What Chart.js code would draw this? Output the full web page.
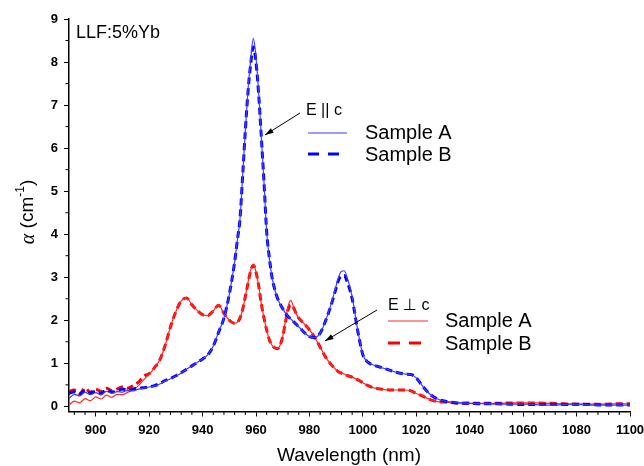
<!DOCTYPE html>
<html>
<head>
<meta charset="utf-8">
<script src="https://cdn.jsdelivr.net/npm/chart.js@4.4.0/dist/chart.umd.min.js"></script>
<style>
    body { margin: 0; background: #fff; }
</style>
</head>
<body>
<canvas id="chart" width="644" height="466"></canvas>
<script>
// wavelength grid (nm), shared by all four curves
var wavelength = [
    890, 892, 894, 896, 898, 900, 902, 904, 906, 908, 910, 912, 914, 916, 918, 920, 922, 924, 926, 928, 930, 932, 934, 936, 938, 940, 942, 944, 946, 948, 950, 952,
    953, 954, 955, 956, 957, 958, 959, 960, 961, 962, 963, 964, 965, 966, 967, 968, 969, 970, 971, 972, 973, 974, 975, 976,
    978, 980, 982, 984, 986, 988, 990,
    991, 992, 993, 994,
    996, 998, 1000, 1002, 1004, 1006, 1008, 1010, 1012, 1014, 1016, 1018, 1020, 1022, 1024, 1026, 1028, 1030,
    1035, 1040, 1045, 1050, 1055, 1060, 1065, 1070, 1075, 1080, 1085, 1090, 1095, 1100
];

// E || c
var parallelA = [
    0.18, 0.28, 0.24, 0.33, 0.27, 0.32, 0.26, 0.35, 0.30, 0.34, 0.33, 0.37, 0.36, 0.40, 0.42, 0.45, 0.47, 0.52, 0.59, 0.64, 0.70, 0.77, 0.86, 0.94, 1.02, 1.10, 1.20, 1.40, 1.73, 2.05, 2.60, 3.35,
    3.85, 4.35, 5.35, 6.40, 7.35, 8.05, 8.55, 8.10, 7.30, 6.25, 5.20, 4.05, 3.45, 3.00, 2.72, 2.52, 2.38, 2.27, 2.17, 2.09, 2.03, 1.97, 1.91, 1.85,
    1.72, 1.62, 1.60, 1.70, 1.98, 2.35, 2.80,
    3.02, 3.14, 3.15, 3.02,
    2.55, 1.80, 1.20, 1.02, 0.96, 0.92, 0.88, 0.84, 0.80, 0.77, 0.75, 0.74, 0.66, 0.50, 0.35, 0.24, 0.17, 0.13,
    0.09, 0.07, 0.06, 0.05, 0.05, 0.05, 0.04, 0.03, 0.04, 0.05, 0.03, 0.03, 0.03, 0.03
];
var parallelB = [
    0.30, 0.34, 0.28, 0.37, 0.31, 0.35, 0.30, 0.38, 0.33, 0.36, 0.40, 0.37, 0.40, 0.42, 0.43, 0.45, 0.48, 0.53, 0.60, 0.65, 0.71, 0.78, 0.86, 0.94, 1.02, 1.10, 1.20, 1.40, 1.72, 2.05, 2.60, 3.35,
    3.85, 4.35, 5.35, 6.40, 7.30, 7.95, 8.35, 8.00, 7.25, 6.25, 5.20, 4.05, 3.45, 3.00, 2.72, 2.52, 2.38, 2.27, 2.17, 2.09, 2.03, 1.97, 1.91, 1.85,
    1.72, 1.62, 1.60, 1.70, 1.98, 2.33, 2.75,
    2.95, 3.03, 3.04, 2.92,
    2.50, 1.78, 1.20, 1.02, 0.96, 0.92, 0.88, 0.84, 0.80, 0.77, 0.75, 0.74, 0.66, 0.50, 0.35, 0.24, 0.17, 0.13,
    0.08, 0.07, 0.06, 0.06, 0.05, 0.04, 0.04, 0.04, 0.04, 0.05, 0.04, 0.03, 0.03, 0.03
];

// E perpendicular c
var perpA = [
    0.03, 0.12, 0.08, 0.18, 0.13, 0.22, 0.17, 0.26, 0.21, 0.28, 0.27, 0.33, 0.38, 0.48, 0.62, 0.74, 0.90, 1.08, 1.42, 1.85, 2.20, 2.45, 2.52, 2.36, 2.23, 2.13, 2.11, 2.22, 2.35, 2.16, 2.00, 1.93,
    1.95, 2.05, 2.25, 2.55, 2.88, 3.17, 3.30, 3.12, 2.80, 2.38, 2.05, 1.77, 1.55, 1.42, 1.36, 1.34, 1.42, 1.62, 1.98, 2.32, 2.46, 2.32, 2.16, 2.05,
    1.92, 1.78, 1.60, 1.38, 1.15, 0.98, 0.85,
    0.80, 0.77, 0.75, 0.72,
    0.68, 0.62, 0.55, 0.48, 0.43, 0.41, 0.39, 0.38, 0.38, 0.38, 0.38, 0.36, 0.30, 0.25, 0.19, 0.14, 0.11, 0.10,
    0.08, 0.07, 0.07, 0.07, 0.08, 0.08, 0.08, 0.07, 0.06, 0.05, 0.05, 0.05, 0.06, 0.06
];
var perpB = [
    0.34, 0.38, 0.30, 0.42, 0.33, 0.40, 0.35, 0.42, 0.37, 0.40, 0.45, 0.42, 0.48, 0.56, 0.70, 0.76, 0.90, 1.08, 1.42, 1.85, 2.20, 2.45, 2.52, 2.36, 2.23, 2.13, 2.11, 2.22, 2.35, 2.16, 2.00, 1.93,
    1.95, 2.05, 2.25, 2.55, 2.86, 3.15, 3.28, 3.12, 2.80, 2.38, 2.05, 1.77, 1.55, 1.42, 1.36, 1.34, 1.42, 1.62, 1.95, 2.25, 2.36, 2.30, 2.16, 2.05,
    1.92, 1.78, 1.60, 1.38, 1.15, 0.98, 0.85,
    0.80, 0.77, 0.75, 0.72,
    0.68, 0.62, 0.55, 0.48, 0.43, 0.41, 0.39, 0.38, 0.38, 0.38, 0.38, 0.36, 0.30, 0.25, 0.19, 0.14, 0.11, 0.10,
    0.08, 0.07, 0.07, 0.07, 0.08, 0.08, 0.08, 0.07, 0.06, 0.05, 0.05, 0.05, 0.06, 0.06
];

// tick labels
var xTicks = [900, 920, 940, 960, 980, 1000, 1020, 1040, 1060, 1080, 1100];
var yTicks = [0, 1, 2, 3, 4, 5, 6, 7, 8, 9];
var xMinorStep = 4;
var yMinorStep = 0.5;

function toPoints(values) {
    var pts = [];
    for (var i = 0; i < wavelength.length; i++) {
        pts.push({ x: wavelength[i], y: values[i] });
    }
    return pts;
}

function line(ctx, x1, y1, x2, y2, color, width, dash) {
    ctx.save();
    ctx.strokeStyle = color;
    ctx.lineWidth = width;
    ctx.setLineDash(dash || []);
    ctx.beginPath();
    ctx.moveTo(x1, y1);
    ctx.lineTo(x2, y2);
    ctx.stroke();
    ctx.restore();
}

function arrow(ctx, x1, y1, x2, y2) {
    line(ctx, x1, y1, x2, y2, '#000', 1);
    var a = Math.atan2(y2 - y1, x2 - x1);
    ctx.save();
    ctx.fillStyle = '#000';
    ctx.beginPath();
    ctx.moveTo(x2, y2);
    ctx.lineTo(x2 - 9 * Math.cos(a - 0.3), y2 - 9 * Math.sin(a - 0.3));
    ctx.lineTo(x2 - 9 * Math.cos(a + 0.3), y2 - 9 * Math.sin(a + 0.3));
    ctx.closePath();
    ctx.fill();
    ctx.restore();
}

function text(ctx, str, x, y, font, align) {
    ctx.save();
    ctx.fillStyle = '#000';
    ctx.font = font;
    ctx.textAlign = align || 'left';
    ctx.textBaseline = 'middle';
    ctx.fillText(str, x, y);
    ctx.restore();
}

// minor ticks, axis titles and the two little legends
var extras = {
    id: 'extras',
    afterDraw: function (chart) {
        var ctx = chart.ctx;
        var xs = chart.scales.x;
        var ys = chart.scales.y;
        var area = chart.chartArea;

        // minor ticks
        for (var v = 892; v <= 1100; v += xMinorStep) {
            if (v % 20 == 0) continue;
            var px = xs.getPixelForValue(v);
            line(ctx, px, area.bottom, px, area.bottom + 3.5, '#000', 1);
        }
        for (var w = yMinorStep; w < 9; w += 1) {
            var py = ys.getPixelForValue(w);
            line(ctx, area.left, py, area.left - 3.5, py, '#000', 1);
        }

        // axis titles
        text(ctx, 'Wavelength (nm)', 349, 456, '19px "Liberation Sans", Arial, sans-serif', 'center');

        ctx.save();
        ctx.translate(28, 212);
        ctx.rotate(-Math.PI / 2);
        ctx.fillStyle = '#000';
        ctx.textBaseline = 'middle';
        ctx.font = 'italic 20px "Liberation Serif", serif';
        var alphaW = ctx.measureText('\u03b1').width;
        ctx.font = '19px "Liberation Sans", Arial, sans-serif';
        var partW = ctx.measureText(' (cm').width;
        ctx.font = '12px "Liberation Sans", Arial, sans-serif';
        var supW = ctx.measureText('-1').width;
        ctx.font = '19px "Liberation Sans", Arial, sans-serif';
        var endW = ctx.measureText(')').width;
        var x0 = -(alphaW + partW + supW + endW) / 2;
        ctx.font = 'italic 20px "Liberation Serif", serif';
        ctx.fillText('\u03b1', x0, 1);
        ctx.font = '19px "Liberation Sans", Arial, sans-serif';
        ctx.fillText(' (cm', x0 + alphaW, 0);
        ctx.font = '12px "Liberation Sans", Arial, sans-serif';
        ctx.fillText('-1', x0 + alphaW + partW, -7);
        ctx.font = '19px "Liberation Sans", Arial, sans-serif';
        ctx.fillText(')', x0 + alphaW + partW + supW, 0);
        ctx.restore();

        text(ctx, 'LLF:5%Yb', 76, 33, '18px "Liberation Sans", Arial, sans-serif');

        // E || c legend
        text(ctx, 'E || c', 306, 111, '16px "Liberation Sans", Arial, sans-serif');
        arrow(ctx, 300, 113, 265, 135);
        line(ctx, 308, 133, 347, 133, 'rgb(60,60,255)', 1.2);
        line(ctx, 308, 154, 342, 154, '#0000ff', 3, [11, 9]);
        text(ctx, 'Sample A', 365, 133, '20px "Liberation Sans", Arial, sans-serif');
        text(ctx, 'Sample B', 365, 155, '20px "Liberation Sans", Arial, sans-serif');

        // E perp c legend
        text(ctx, 'E \u22a5 c', 388, 306, '16px "Liberation Sans", "DejaVu Sans", sans-serif');
        arrow(ctx, 377, 310, 325, 341);
        line(ctx, 388, 321, 428, 321, 'rgb(255,40,40)', 1.2);
        line(ctx, 388, 343, 422, 343, '#ff0000', 3, [12, 9]);
        text(ctx, 'Sample A', 445, 321, '20px "Liberation Sans", Arial, sans-serif');
        text(ctx, 'Sample B', 445, 344, '20px "Liberation Sans", Arial, sans-serif');
    }
};

var ctx = document.getElementById('chart').getContext('2d');
var chart = new Chart(ctx, {
    type: 'line',
    data: {
        datasets: [{
            label: 'E || c Sample A',
            data: toPoints(parallelA),
            borderColor: 'rgb(60,60,255)',
            borderWidth: 1.2
        }, {
            label: 'E || c Sample B',
            data: toPoints(parallelB),
            borderColor: '#0000ff',
            borderWidth: 3,
            borderDash: [7, 4]
        }, {
            label: 'E perp c Sample A',
            data: toPoints(perpA),
            borderColor: 'rgb(255,40,40)',
            borderWidth: 1.2
        }, {
            label: 'E perp c Sample B',
            data: toPoints(perpB),
            borderColor: '#ff0000',
            borderWidth: 3,
            borderDash: [7, 4]
        }]
    },
    options: {
        responsive: false,
        animation: false,
        devicePixelRatio: 1,
        layout: { padding: { top: 19, right: 14, left: 0, bottom: 0 } },
        elements: {
            point: { radius: 0 },
            line: { cubicInterpolationMode: 'monotone', fill: false }
        },
        plugins: {
            legend: { display: false },
            tooltip: { enabled: false }
        },
        scales: {
            x: {
                type: 'linear',
                min: 890,
                max: 1100,
                afterBuildTicks: function (scale) {
                    scale.ticks = xTicks.map(function (v) { return { value: v }; });
                },
                afterFit: function (scale) {
                    scale.height = 54.5;
                    scale.paddingLeft = 0;
                    scale.paddingRight = 0;
                },
                grid: { drawOnChartArea: false, tickLength: 5, color: '#000', tickWidth: 1 },
                border: { color: '#000', width: 1.5 },
                ticks: {
                    color: '#000',
                    padding: 6,
                    maxRotation: 0,
                    autoSkip: false,
                    callback: function (value) { return String(value); },
                    font: { family: '"Liberation Sans", Arial, sans-serif', size: 13, weight: 'bold' }
                }
            },
            y: {
                min: -0.12,
                max: 9,
                afterBuildTicks: function (scale) {
                    scale.ticks = yTicks.map(function (v) { return { value: v }; });
                },
                afterFit: function (scale) {
                    scale.width = 69;
                    scale.paddingTop = 0;
                    scale.paddingBottom = 0;
                },
                grid: { drawOnChartArea: false, tickLength: 5, color: '#000', tickWidth: 1 },
                border: { color: '#000', width: 1.5 },
                ticks: {
                    color: '#000',
                    padding: 6,
                    callback: function (value) { return String(value); },
                    font: { family: '"Liberation Sans", Arial, sans-serif', size: 13, weight: 'bold' }
                }
            }
        }
    },
    plugins: [extras]
});
</script>
</body>
</html>
